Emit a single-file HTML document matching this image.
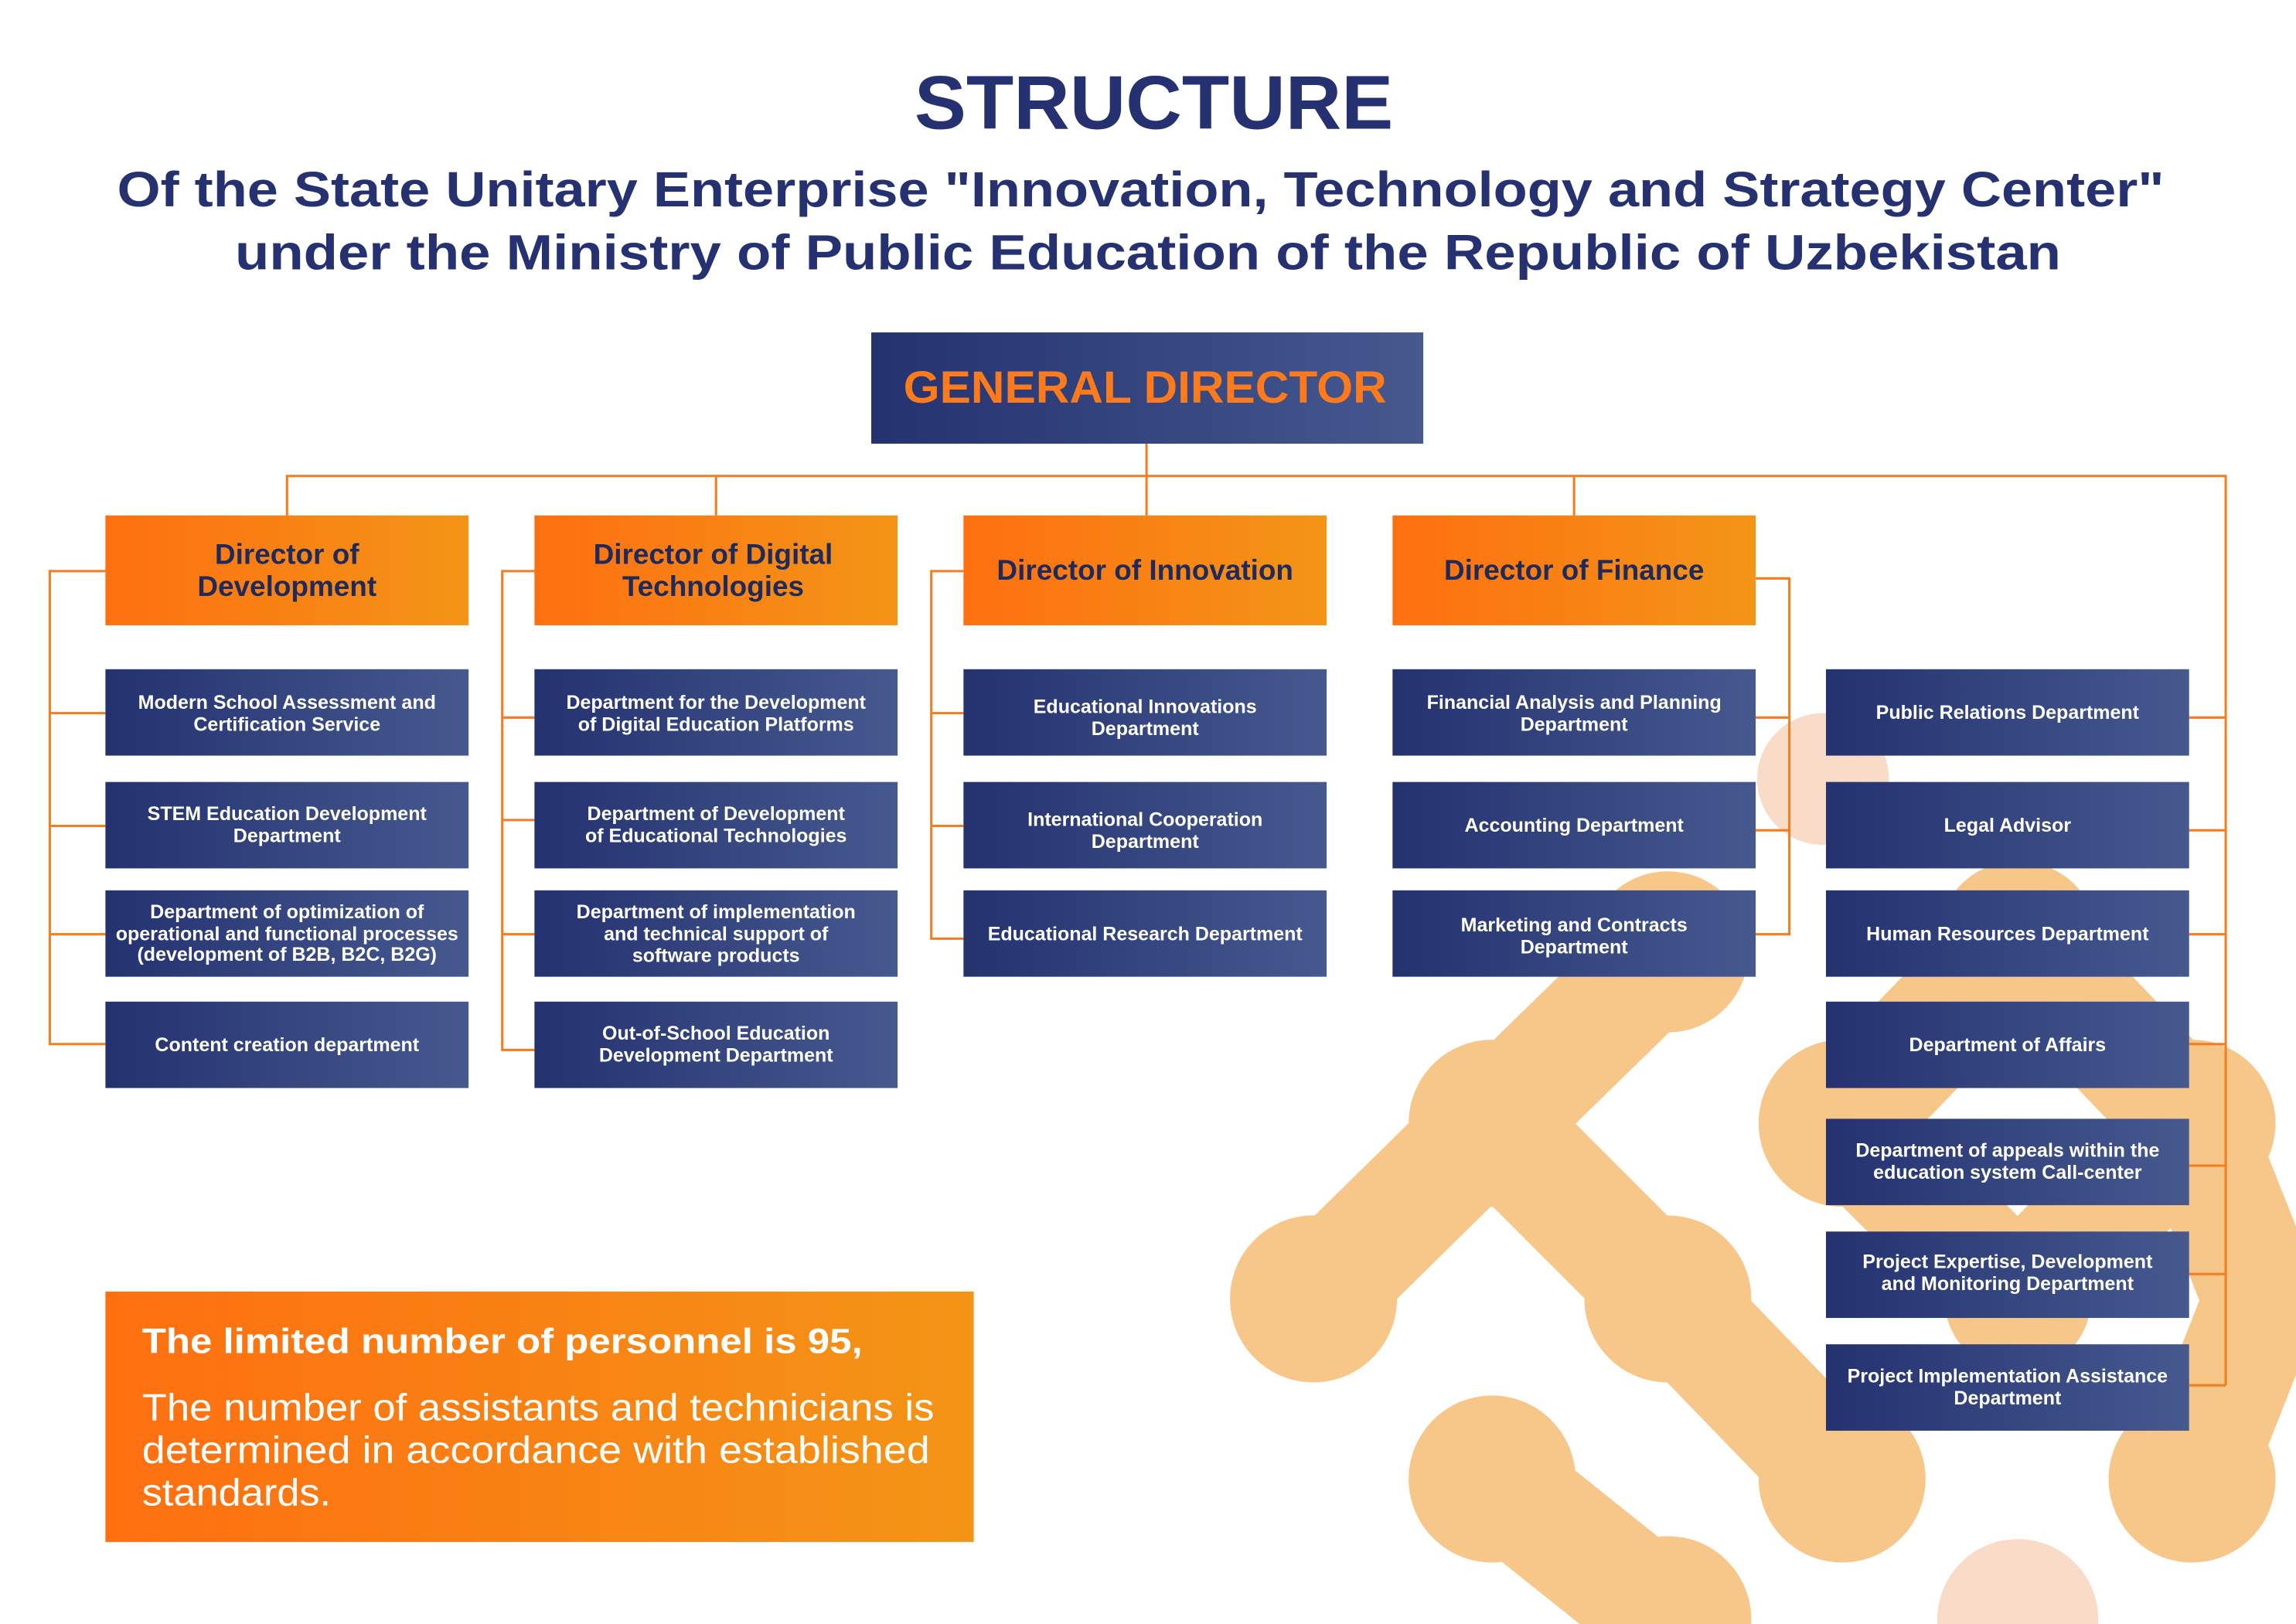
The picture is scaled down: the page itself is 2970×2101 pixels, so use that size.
<!DOCTYPE html>
<html><head><meta charset="utf-8"><style>
html,body{margin:0;padding:0;background:#fff;}
svg{display:block;font-family:"Liberation Sans",sans-serif;}
.dt{fill:#fff;font-size:13.2px;font-weight:600;text-anchor:middle;}
.dr{fill:#1f2a5c;font-size:19.5px;font-weight:700;text-anchor:middle;}
.ln{stroke:#f57c1f;stroke-width:1.6;fill:none;}
</style></head><body>
<svg width="2970" height="2101" viewBox="0 0 1568 1109" preserveAspectRatio="none">
<defs>
<linearGradient id="nv" x1="0" x2="1" y1="0" y2="0"><stop offset="0" stop-color="#243270"/><stop offset="1" stop-color="#46598f"/></linearGradient>
<linearGradient id="or" x1="0" x2="1" y1="0" y2="0"><stop offset="0" stop-color="#fe6f10"/><stop offset="1" stop-color="#f39517"/></linearGradient>
</defs>
<g fill="#f6c789" stroke="#f6c789" stroke-width="80" stroke-linecap="round">
<line x1="1019" y1="767" x2="1139" y2="650"/><line x1="1019" y1="767" x2="897" y2="887"/><line x1="1019" y1="767" x2="1139" y2="887"/>
<line x1="1139" y1="887" x2="1258" y2="1010"/><line x1="1019" y1="1010" x2="1139" y2="1106"/>
<line x1="1258" y1="767" x2="1378" y2="887"/><line x1="1378" y1="887" x2="1497" y2="767"/><line x1="1497" y1="767" x2="1545" y2="888"/><line x1="1545" y1="888" x2="1497" y2="1010"/><line x1="1378" y1="643" x2="1258" y2="767"/><line x1="1378" y1="643" x2="1497" y2="767"/>
<g stroke="none">
<circle cx="1019" cy="767" r="57"/><circle cx="897" cy="887" r="57"/><circle cx="1139" cy="887" r="57"/><circle cx="1019" cy="1010" r="57"/><circle cx="1258" cy="1010" r="57"/><circle cx="1139" cy="650" r="55"/><circle cx="1258" cy="767" r="57"/><circle cx="1497" cy="767" r="57"/><circle cx="1497" cy="1010" r="57"/><circle cx="1378" cy="887" r="50"/><circle cx="1378" cy="643" r="55"/><circle cx="1139" cy="1106" r="57"/>
<circle cx="1245" cy="532" r="45" fill="#f8dcc7"/><circle cx="1378" cy="1106" r="55" fill="#f8dcc7"/>
</g></g>

<text x="788" y="88" text-anchor="middle" font-size="52" font-weight="700" fill="#253170" textLength="327" lengthAdjust="spacingAndGlyphs">STRUCTURE</text>
<text x="779" y="141" text-anchor="middle" font-size="34" font-weight="700" fill="#253170" textLength="1398" lengthAdjust="spacingAndGlyphs">Of the State Unitary Enterprise "Innovation, Technology and Strategy Center"</text>
<text x="784" y="184" text-anchor="middle" font-size="34" font-weight="700" fill="#253170" textLength="1247" lengthAdjust="spacingAndGlyphs">under the Ministry of Public Education of the Republic of Uzbekistan</text>

<g>
<path class="ln" d="M783 303V352M196 352V325H1520V946M489 325V352M1075 325V352"/>
<path class="ln" d="M72 390H34V713H72M34 487H72M34 564H72M34 638H72"/>
<path class="ln" d="M365 390H343V717H365M343 490H365M343 560H365M343 638H365"/>
<path class="ln" d="M658 390H636V641H658M636 487H658M636 564H658"/>
<path class="ln" d="M1199 395H1222V638H1199M1199 490H1222M1199 567H1222"/>
<path class="ln" d="M1495 490H1520M1495 567H1520M1495 638H1520M1495 713H1520M1495 796H1520M1495 870H1520M1495 946H1520"/>
</g>

<g>
<rect x="595" y="227" width="377" height="76" fill="url(#nv)"/>
<text x="782" y="275" text-anchor="middle" font-size="31" font-weight="700" fill="#ff7a1a" textLength="330" lengthAdjust="spacingAndGlyphs">GENERAL DIRECTOR</text>
</g>

<g><rect x="72" y="352" width="248" height="75" fill="url(#or)"/><text class="dr" x="196" y="385">Director of</text><text class="dr" x="196" y="407">Development</text></g>
<g><rect x="365" y="352" width="248" height="75" fill="url(#or)"/><text class="dr" x="487" y="385">Director of Digital</text><text class="dr" x="487" y="407">Technologies</text></g>
<g><rect x="658" y="352" width="248" height="75" fill="url(#or)"/><text class="dr" x="782" y="396">Director of Innovation</text></g>
<g><rect x="951" y="352" width="248" height="75" fill="url(#or)"/><text class="dr" x="1075" y="396">Director of Finance</text></g>

<g>
<rect x="72" y="457" width="248" height="59" fill="url(#nv)"/><text class="dt" x="196" y="484">Modern School Assessment and</text><text class="dt" x="196" y="499">Certification Service</text>
<rect x="72" y="534" width="248" height="59" fill="url(#nv)"/><text class="dt" x="196" y="560">STEM Education Development</text><text class="dt" x="196" y="575">Department</text>
<rect x="72" y="608" width="248" height="59" fill="url(#nv)"/><text class="dt" x="196" y="627" font-size="12.4">Department of optimization of</text><text class="dt" x="196" y="642" font-size="12.4">operational and functional processes</text><text class="dt" x="196" y="656" font-size="12.4">(development of B2B, B2C, B2G)</text>
<rect x="72" y="684" width="248" height="59" fill="url(#nv)"/><text class="dt" x="196" y="718">Content creation department</text>

<rect x="365" y="457" width="248" height="59" fill="url(#nv)"/><text class="dt" x="489" y="484">Department for the Development</text><text class="dt" x="489" y="499">of Digital Education Platforms</text>
<rect x="365" y="534" width="248" height="59" fill="url(#nv)"/><text class="dt" x="489" y="560">Department of Development</text><text class="dt" x="489" y="575">of Educational Technologies</text>
<rect x="365" y="608" width="248" height="59" fill="url(#nv)"/><text class="dt" x="489" y="627">Department of implementation</text><text class="dt" x="489" y="642">and technical support of</text><text class="dt" x="489" y="657">software products</text>
<rect x="365" y="684" width="248" height="59" fill="url(#nv)"/><text class="dt" x="489" y="710">Out-of-School Education</text><text class="dt" x="489" y="725">Development Department</text>

<rect x="658" y="457" width="248" height="59" fill="url(#nv)"/><text class="dt" x="782" y="487">Educational Innovations</text><text class="dt" x="782" y="502">Department</text>
<rect x="658" y="534" width="248" height="59" fill="url(#nv)"/><text class="dt" x="782" y="564">International Cooperation</text><text class="dt" x="782" y="579">Department</text>
<rect x="658" y="608" width="248" height="59" fill="url(#nv)"/><text class="dt" x="782" y="642">Educational Research Department</text>

<rect x="951" y="457" width="248" height="59" fill="url(#nv)"/><text class="dt" x="1075" y="484">Financial Analysis and Planning</text><text class="dt" x="1075" y="499">Department</text>
<rect x="951" y="534" width="248" height="59" fill="url(#nv)"/><text class="dt" x="1075" y="568">Accounting Department</text>
<rect x="951" y="608" width="248" height="59" fill="url(#nv)"/><text class="dt" x="1075" y="636">Marketing and Contracts</text><text class="dt" x="1075" y="651">Department</text>

<rect x="1247" y="457" width="248" height="59" fill="url(#nv)"/><text class="dt" x="1371" y="491">Public Relations Department</text>
<rect x="1247" y="534" width="248" height="59" fill="url(#nv)"/><text class="dt" x="1371" y="568">Legal Advisor</text>
<rect x="1247" y="608" width="248" height="59" fill="url(#nv)"/><text class="dt" x="1371" y="642">Human Resources Department</text>
<rect x="1247" y="684" width="248" height="59" fill="url(#nv)"/><text class="dt" x="1371" y="718">Department of Affairs</text>
<rect x="1247" y="764" width="248" height="59" fill="url(#nv)"/><text class="dt" x="1371" y="790">Department of appeals within the</text><text class="dt" x="1371" y="805">education system Call-center</text>
<rect x="1247" y="841" width="248" height="59" fill="url(#nv)"/><text class="dt" x="1371" y="866">Project Expertise, Development</text><text class="dt" x="1371" y="881">and Monitoring Department</text>
<rect x="1247" y="918" width="248" height="59" fill="url(#nv)"/><text class="dt" x="1371" y="944">Project Implementation Assistance</text><text class="dt" x="1371" y="959">Department</text>
</g>

<g>
<rect x="72" y="882" width="593" height="171" fill="url(#or)"/>
<text x="97" y="924" font-size="24" font-weight="700" fill="#fff" textLength="492" lengthAdjust="spacingAndGlyphs">The limited number of personnel is 95,</text>
<text x="97" y="970" font-size="26" fill="#fff" textLength="541" lengthAdjust="spacingAndGlyphs">The number of assistants and technicians is</text>
<text x="97" y="999" font-size="26" fill="#fff" textLength="538" lengthAdjust="spacingAndGlyphs">determined in accordance with established</text>
<text x="97" y="1028" font-size="26" fill="#fff" textLength="129" lengthAdjust="spacingAndGlyphs">standards.</text>
</g>
</svg>
</body></html>
